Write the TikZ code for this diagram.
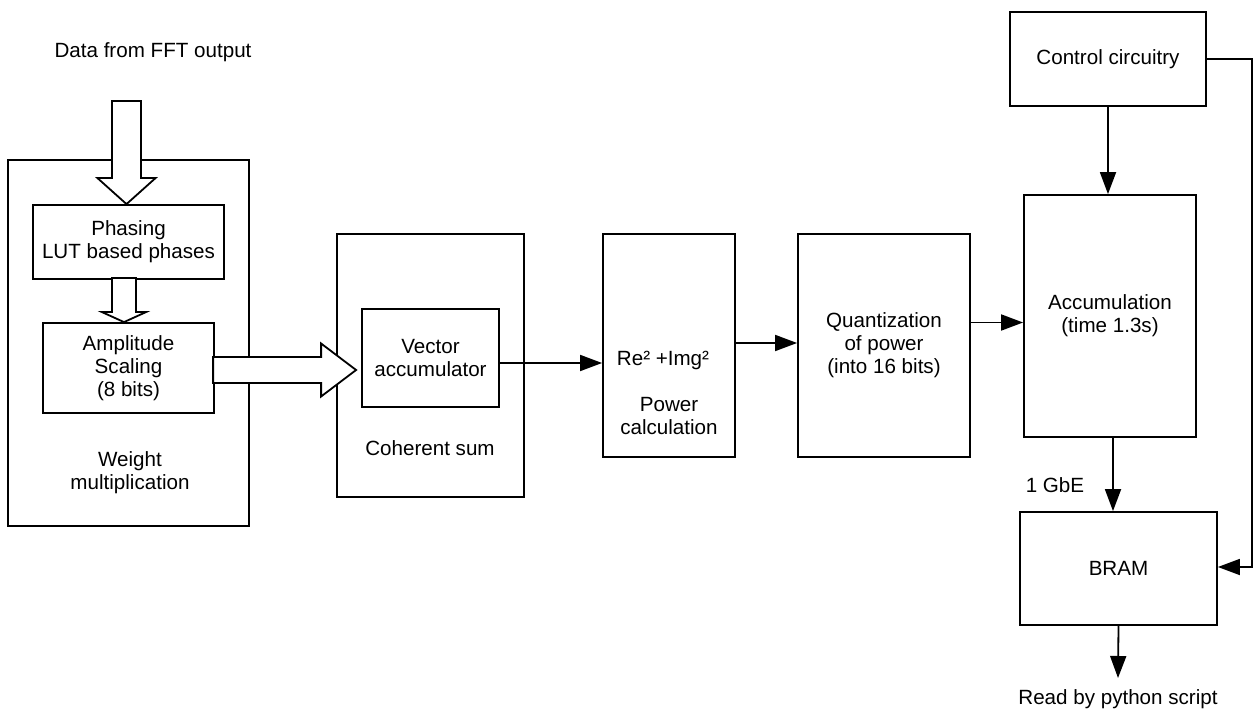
\documentclass[tikz,border=0pt]{standalone}
\usepackage{fontspec}
\setmainfont{Liberation Sans}
\usetikzlibrary{arrows.meta,calc}
\begin{document}
\begin{tikzpicture}[x=0.5pt,y=-0.5pt,
  box/.style={draw,line width=0.9pt,inner sep=0pt,align=center,font=\fontsize{10.3}{11.5}\selectfont},
  txt/.style={inner sep=0pt,align=center,font=\fontsize{10.3}{11.5}\selectfont},
  arr/.style={line width=0.9pt,-{Triangle[length=11pt,width=8pt]}},
  hollow/.style={draw,fill=white,line width=0.9pt,line join=miter}]
\useasboundingbox (0,0) rectangle (1254,711);
% boxes
\node[box,minimum width=120.5pt,minimum height=183pt] (weight) at (128.5,343) {};
\node[txt] (wtext) at (130,473) {Weight\\multiplication};
\node[box,minimum width=95.5pt,minimum height=37pt] (phase) at (128.5,242) {Phasing\\LUT based phases};
\node[box,minimum width=85.5pt,minimum height=45pt] (amp) at (128.5,368) {Amplitude\\Scaling\\(8 bits)};
\node[box,minimum width=93.5pt,minimum height=131.5pt] (coh) at (430.5,365.5) {};
\node[txt] (cohtext) at (430,448) {Coherent sum};
\node[box,minimum width=68.5pt,minimum height=49pt] (vec) at (430.5,358) {Vector\\accumulator};
\node[box,minimum width=66pt,minimum height=111.5pt] (pow) at (669,345.5) {};
\node[txt] (re) at (663,360) {Re² +Img²};
\node[txt] (powtext) at (669,416) {Power\\calculation};
\node[box,minimum width=86pt,minimum height=111.5pt] (quant) at (884,345.5) {Quantization\\of power\\(into 16 bits)};
\node[box,minimum width=86pt,minimum height=121pt] (acc) at (1110,316) {Accumulation\\(time 1.3s)};
\node[box,minimum width=98pt,minimum height=47pt] (ctrl) at (1108,59) {Control circuitry};
\node[box,minimum width=98.5pt,minimum height=56.5pt] (bram) at (1118.5,568.5) {BRAM};
\node[txt] (fft) at (153,52) {Data from FFT output};
\node[txt] (gbe) at (1055,485) {1 GbE};
\node[txt] (py) at (1118,699) {Read by python script};
\coordinate (pyin) at (1118,678);
\coordinate (rtop) at (1252,59);
\coordinate (rbot) at (1252,567);
% hollow arrows
\coordinate (t) at ($(phase.north)+(-2,0)$);
\draw[hollow] ($(t)+(-14.5,-103)$) -- ($(t)+(14.5,-103)$) -- ($(t)+(14.5,-26)$) -- ($(t)+(29,-26)$) -- (t) -- ($(t)+(-29,-26)$) -- ($(t)+(-14.5,-26)$) -- cycle;
\coordinate (s) at ($(amp.north)+(-4.5,0)$);
\draw[hollow] ($(s)+(-12,-44)$) -- ($(s)+(12,-44)$) -- ($(s)+(12,-10)$) -- ($(s)+(22,-10)$) -- (s) -- ($(s)+(-22,-10)$) -- ($(s)+(-12,-10)$) -- cycle;
\coordinate (b) at ($(coh.west |- amp.east)+(20,2)$);
\draw[hollow] ($(b)+(-143,-13)$) -- ($(b)+(-35,-13)$) -- ($(b)+(-35,-26.5)$) -- (b) -- ($(b)+(-35,26.5)$) -- ($(b)+(-35,13)$) -- ($(b)+(-143,13)$) -- cycle;
% connectors
\coordinate (v1) at ($(vec.east)+(0,5)$);
\coordinate (p1) at ($(pow.east)+(0,-2.5)$);
\coordinate (q1) at ($(quant.east)+(0,-23)$);
\coordinate (a1) at ($(acc.south)+(3,0)$);
\draw[arr] (v1) -- (v1 -| pow.west);
\draw[arr] (p1) -- (p1 -| quant.west);
\draw[arr] (q1) -- (q1 -| acc.west);
\draw[arr] (ctrl.south) -- (ctrl.south |- acc.north);
\draw[arr] (a1) -- (a1 |- bram.north);
\draw[arr] (bram.south) -- (pyin);
\draw[arr] (ctrl.east) -- (rtop) -- (rbot) -- (rbot -| bram.east);
\end{tikzpicture}
\end{document}
